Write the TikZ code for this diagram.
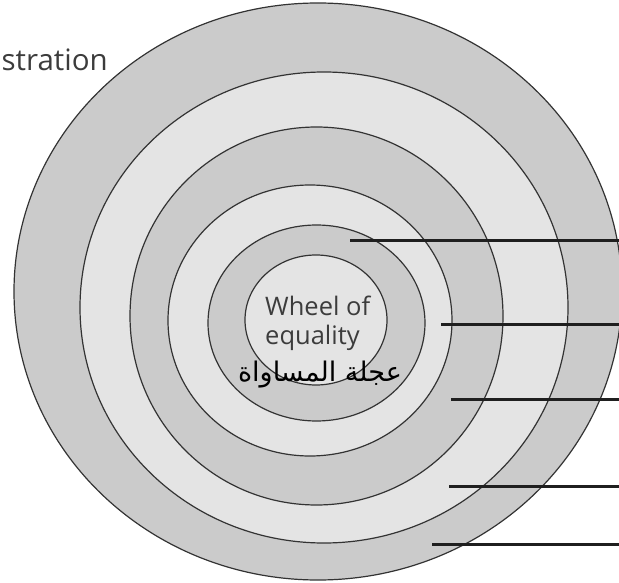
\documentclass[tikz,border=0pt]{standalone}
\usepackage{fontspec}
\setmainfont{Open Sans}
\newfontfamily\arabicfont[Script=Arabic]{DejaVu Sans}
\TeXXeTstate=1
\definecolor{ringdark}{HTML}{CBCBCB}
\definecolor{ringlight}{HTML}{E4E4E4}
\definecolor{edgegray}{HTML}{333333}
\definecolor{labelgray}{HTML}{3C3C3C}
\begin{document}
\begin{tikzpicture}[x=1pt,y=-1pt,
  ring/.style={draw=edgegray,line width=1.2pt},
  leader/.style={draw=black!88,line width=3pt},
  lbl/.style={inner sep=0pt,text=labelgray,font=\fontsize{25.5}{29}\selectfont}]
\useasboundingbox (0,0) rectangle (619,583);
\clip (0,0) rectangle (619,583);
% rings, from outside in
\filldraw[ring,fill=ringdark]  (318,291.5) ellipse [x radius=304pt, y radius=288.5pt];
\filldraw[ring,fill=ringlight] (324,307.5) ellipse [x radius=244pt, y radius=235.5pt];
\filldraw[ring,fill=ringdark]  (316.5,316) ellipse [x radius=186.5pt, y radius=189pt];
\filldraw[ring,fill=ringlight] (310,320.5) ellipse [x radius=142pt, y radius=135.5pt];
\filldraw[ring,fill=ringdark]  (316.5,323) ellipse [x radius=108.5pt, y radius=98pt];
\filldraw[ring,fill=ringlight] (316,320) ellipse [x radius=71pt, y radius=65pt];
% cut-off title
\node[inner sep=0pt,anchor=base east,text=labelgray,font=\fontsize{29.5}{34}\selectfont] (title) at (108,71) {stration};
% centre labels
\node[lbl,anchor=base west] (wheelA) at (265,315) {Wheel of};
\node[lbl,anchor=base west] (wheelB) at (265,344) {equality};
\node[inner sep=0pt,anchor=base,font=\arabicfont\fontsize{27}{32}\selectfont] (arab) at (320,381) {\beginR عجلة المساواة\endR};
% leader lines
\coordinate (a1) at (350,240); \coordinate (b1) at (625,240);
\coordinate (a2) at (441,324); \coordinate (b2) at (625,324);
\coordinate (a3) at (451,399); \coordinate (b3) at (625,399);
\coordinate (a4) at (449,486); \coordinate (b4) at (625,486);
\coordinate (a5) at (432,544); \coordinate (b5) at (625,544);
\foreach \i in {1,...,5} \draw[leader] (a\i) -- (b\i);
\end{tikzpicture}
\end{document}
